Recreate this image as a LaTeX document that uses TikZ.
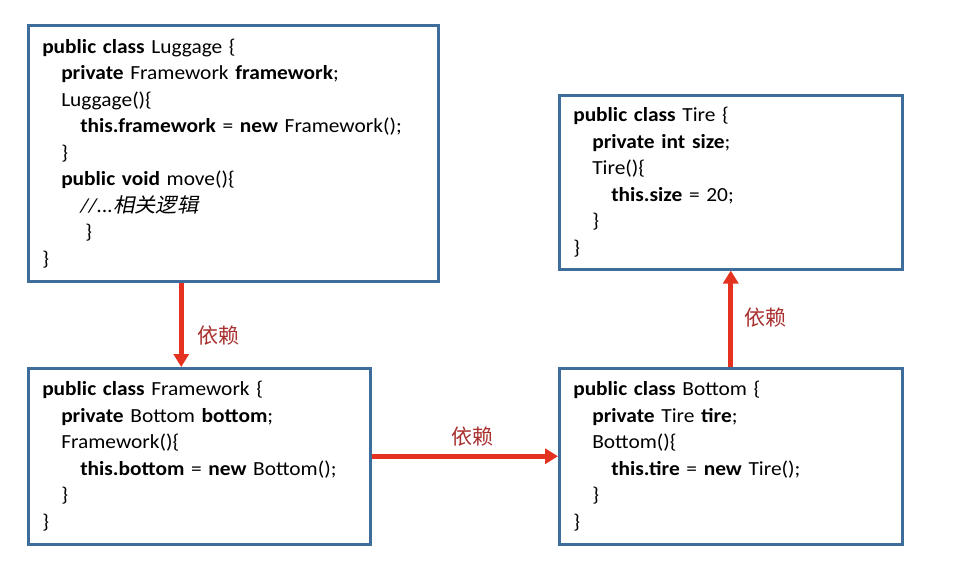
\documentclass[tikz,border=0pt]{standalone}
\usepackage{fontspec}
\setmainfont[FakeStretch=1.07]{Carlito}
\newfontfamily\cjk{Noto Sans CJK SC}
\newfontfamily\cjkit[FakeSlant=0.2,FakeStretch=1.07]{Noto Sans CJK SC}
\usetikzlibrary{arrows.meta,calc}
\definecolor{boxblue}{HTML}{3E6D9C}
\definecolor{arrowred}{HTML}{E5311F}
\definecolor{labelred}{HTML}{A8302E}
\newcommand{\ind}{\hspace*{19pt}}

\begin{document}
\begin{tikzpicture}[x=1pt,y=-1pt,
    codebox/.style={draw=boxblue, line width=2.5pt, fill=white, anchor=north west,
      align=left, inner xsep=14pt, inner ysep=0pt,
      font=\fontsize{20}{26.5}\selectfont},
    dep/.style={draw=arrowred, line width=5pt, -{Triangle[length=13pt,width=15pt]}},
    deplabel/.style={text=labelred, font=\fontsize{21}{24}\selectfont\cjk}]

        \useasboundingbox (0,0) rectangle (963,568);

        % classes
        \node[codebox, text width=382pt, minimum width=410pt, minimum height=256pt] (luggage) at (27,24) {%
            \textbf{public class} Luggage \{\\
            \ind\textbf{private} Framework \textbf{framework};\\
            \ind Luggage()\{\\
            \ind\ind\textbf{this.framework} = \textbf{new} Framework();\\
            \ind\}\\
            \ind\textbf{public void} move()\{\\
            \ind\ind\textit{//...}{\cjkit 相关逻辑}\\
            \ind\ind\hspace*{5pt}\}\\
            \}};
        \node[codebox, text width=315pt, minimum width=343pt, minimum height=174pt] (tire) at (558,94) {%
            \textbf{public class} Tire \{\\
            \ind\textbf{private int size};\\
            \ind Tire()\{\\
            \ind\ind\textbf{this.size} = 20;\\
            \ind\}\\
            \}};
        \node[codebox, text width=314pt, minimum width=342pt, minimum height=176pt] (framework) at (27,367) {%
            \textbf{public class} Framework \{\\
            \ind\textbf{private} Bottom \textbf{bottom};\\
            \ind Framework()\{\\
            \ind\ind\textbf{this.bottom} = \textbf{new} Bottom();\\
            \ind\}\\
            \}};
        \node[codebox, text width=315pt, minimum width=343pt, minimum height=176pt] (bottom) at (558,367) {%
            \textbf{public class} Bottom \{\\
            \ind\textbf{private} Tire \textbf{tire};\\
            \ind Bottom()\{\\
            \ind\ind\textbf{this.tire} = \textbf{new} Tire();\\
            \ind\}\\
            \}};

        % dependencies
        \draw[dep] ([xshift=-52pt]luggage.south) -- ([xshift=-52pt]luggage.south |- framework.north);
        \draw[dep] (framework.east) -- (bottom.west);
        \draw[dep] (bottom.north) -- (tire.south);

        \node[deplabel] (dep1) at (218,336) {依赖};
        \node[deplabel] (dep2) at (472,437) {依赖};
        \node[deplabel] (dep3) at (765,318) {依赖};

\end{tikzpicture}
\end{document}
